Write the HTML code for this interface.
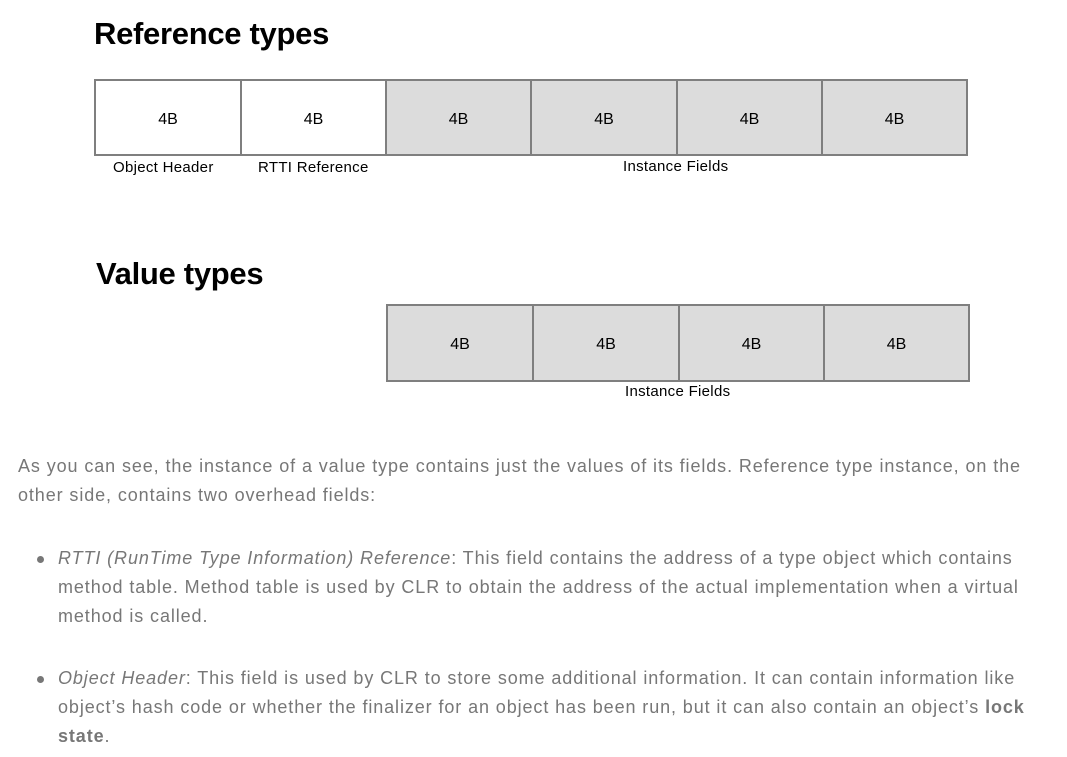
<!DOCTYPE html>
<html><head><meta charset="utf-8"><style>
body{margin:0;width:1067px;height:757px;background:#fff;position:relative;overflow:hidden;font-family:"Liberation Sans",sans-serif}
.a{position:absolute;white-space:nowrap}
h1{position:absolute;margin:0;font-size:31px;font-weight:bold;color:#000;letter-spacing:-0.3px}
.row{position:absolute;display:flex;border:1.5px solid #7f7f7f}
.c{box-sizing:border-box;border:1.5px solid #7f7f7f;background:#dcdcdc;display:flex;align-items:center;justify-content:center;font-size:16px;color:#000;padding-top:4px}
.w{background:#fff}
.lbl{font-size:15px;color:#000;letter-spacing:0.3px}
.t{font-size:18px;color:#777;letter-spacing:0.9px}
.dot{position:absolute;width:7px;height:7px;border-radius:50%;background:#777}
</style></head><body>
<h1 style="left:94px;top:16px">Reference types</h1>
<div class="row" style="left:94px;top:79px;width:872px;height:75px">
<div class="c w" style="width:146px">4B</div><div class="c w" style="width:145px">4B</div><div class="c" style="width:145px">4B</div><div class="c" style="width:146px">4B</div><div class="c" style="width:145px">4B</div><div class="c" style="width:145px">4B</div>
</div>
<div class="a lbl" style="left:113px;top:159px">Object Header</div>
<div class="a lbl" style="left:258px;top:159px">RTTI Reference</div>
<div class="a lbl" style="left:623px;top:158px">Instance Fields</div>
<h1 style="left:96px;top:256px">Value types</h1>
<div class="row" style="left:386px;top:304px;width:582px;height:76px">
<div class="c" style="width:146px">4B</div><div class="c" style="width:146px">4B</div><div class="c" style="width:145px">4B</div><div class="c" style="width:145px">4B</div>
</div>
<div class="a lbl" style="left:625px;top:383px">Instance Fields</div>
<div class="a t" style="left:18px;top:456px">As you can see, the instance of a value type contains just the values of its fields. Reference type instance, on the</div>
<div class="a t" style="left:18px;top:485px">other side, contains two overhead fields:</div>
<div class="dot" style="left:37px;top:556px"></div>
<div class="a t" style="left:58px;top:548px"><i>RTTI (RunTime Type Information) Reference</i>: This field contains the address of a type object which contains</div>
<div class="a t" style="left:58px;top:577px">method table. Method table is used by CLR to obtain the address of the actual implementation when a virtual</div>
<div class="a t" style="left:58px;top:606px">method is called.</div>
<div class="dot" style="left:37px;top:676px"></div>
<div class="a t" style="left:58px;top:668px"><i>Object Header</i>: This field is used by CLR to store some additional information. It can contain information like</div>
<div class="a t" style="left:58px;top:697px">object’s hash code or whether the finalizer for an object has been run, but it can also contain an object’s <b>lock</b></div>
<div class="a t" style="left:58px;top:726px"><b>state</b>.</div>
</body></html>
